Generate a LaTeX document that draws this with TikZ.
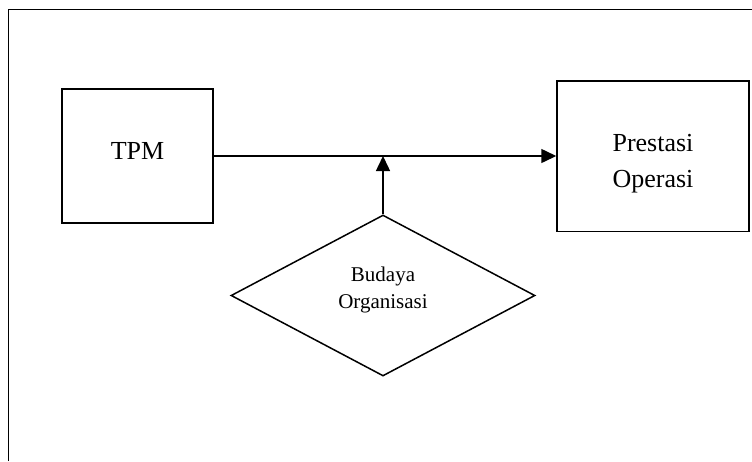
\documentclass[tikz,border=0pt]{standalone}
\usepackage{fontspec}
\setmainfont{Liberation Serif}
\usetikzlibrary{shapes.geometric,arrows.meta}
\begin{document}
\begin{tikzpicture}[x=1pt,y=-1pt,
  ln/.style={line width=1.5pt},
  boxnode/.style={draw,ln,rectangle,inner sep=0pt,align=center},
  arr/.style={ln,-{Triangle[length=15pt,width=14pt]}},
]
\useasboundingbox (0,0) rectangle (752,461);
% outer frame (open at right and bottom)
\draw[ln] (8.5,461) -- (8.5,9.5) -- (752,9.5);
\node[boxnode,minimum width=151pt,minimum height=134pt,
  font=\fontsize{26}{36}\selectfont,text depth=11pt] (tpm) at (137.5,156) {TPM};
\node[boxnode,minimum width=192pt,minimum height=150.5pt,
  font=\fontsize{26}{36}\selectfont,text height=69pt,text depth=5.6pt] (po) at (653,156) {Prestasi\\Operasi};
\node[draw,ln,diamond,aspect=1.89,inner sep=0pt,minimum width=304pt,minimum height=161pt,
  align=center,font=\fontsize{21}{26.3}\selectfont,text height=40.6pt,text depth=15.6pt] (bo) at (383,295.5) {Budaya\\Organisasi};
\coordinate (j) at (383,156);
\draw[arr] (tpm) -- (po);
\draw[arr] (bo.north) -- (j);
\end{tikzpicture}
\end{document}
